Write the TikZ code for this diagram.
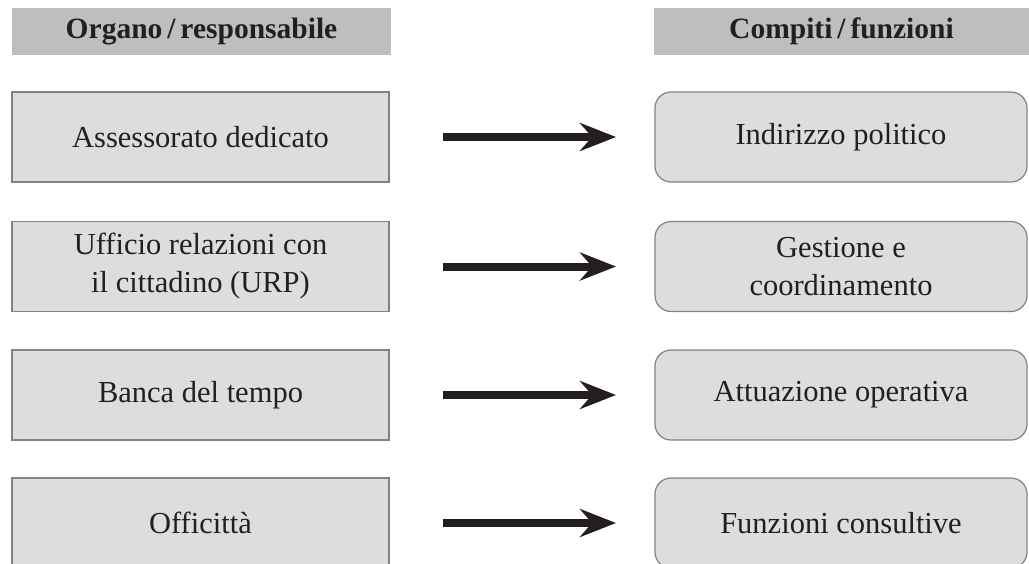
\documentclass[tikz,border=0pt]{standalone}
\usepackage{fontspec}
\setmainfont{Liberation Serif}
\usetikzlibrary{arrows.meta}
\definecolor{headfill}{HTML}{BCBEC0}
\definecolor{boxfill}{HTML}{DCDDDE}
\definecolor{boxline}{HTML}{808285}
\definecolor{ink}{HTML}{231F20}
\tikzset{
  headbox/.style={fill=headfill, text=ink, inner sep=0pt, outer sep=0pt,
    minimum height=47pt, font=\fontsize{29.5}{35}\selectfont\bfseries},
  organbox/.style={draw=boxline, line width=1.2pt, fill=boxfill, text=ink,
    inner sep=0pt, outer sep=0pt, minimum width=377pt, minimum height=90pt,
    align=center, font=\fontsize{30.5}{38}\selectfont},
  taskbox/.style={organbox, rounded corners=16pt, minimum width=372pt},
  conn/.style={draw=ink, line width=8pt,
    -{Stealth[length=36pt, width=28pt, inset=12pt]},
    shorten <=54pt, shorten >=39pt}
}
\begin{document}
\begin{tikzpicture}[x=1pt, y=-1pt]
  \useasboundingbox (0,0) rectangle (1029,563);
  % column headers
  \node[headbox, minimum width=379pt] (h1) at (201.5,31.5) {Organo\,/\,responsabile};
  \node[headbox, minimum width=375pt] (h2) at (841.5,31.5) {Compiti\,/\,funzioni};
  % left column: bodies
  \node[organbox] (o1) at (200.5,137)   {Assessorato dedicato};
  \node[organbox] (o2) at (200.5,266.5) {Ufficio relazioni con\\il cittadino (URP)};
  \node[organbox] (o3) at (200.5,395)   {Banca del tempo};
  \node[organbox] (o4) at (200.5,523)   {Officittà};
  % right column: tasks
  \node[taskbox] (t1) at (841,137)   {Indirizzo politico};
  \node[taskbox] (t2) at (841,266.5) {Gestione e\\coordinamento};
  \node[taskbox] (t3) at (841,395)   {Attuazione operativa};
  \node[taskbox] (t4) at (841,523)   {Funzioni consultive};
  % connectors
  \foreach \i in {1,...,4}
    \draw[conn] (o\i) -- (t\i);
\end{tikzpicture}
\end{document}
